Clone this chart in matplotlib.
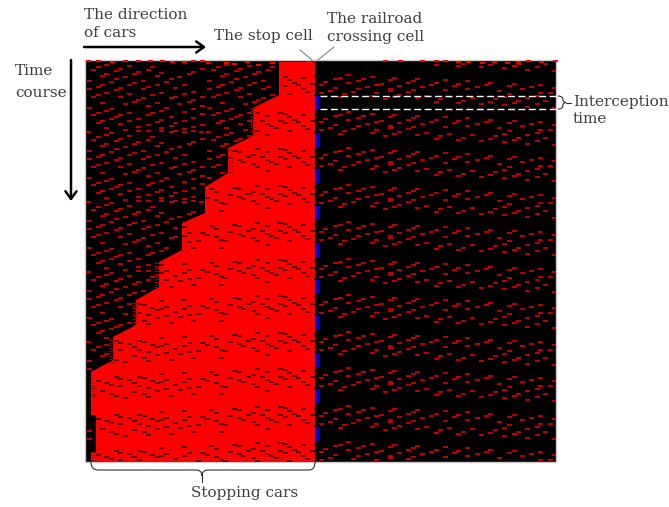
import numpy as np
import matplotlib
matplotlib.use('Agg')
import matplotlib.pyplot as plt
from matplotlib.path import Path
from matplotlib.patches import PathPatch, Rectangle

plt.rcParams['font.family'] = ['DejaVu Serif']

# everything is in pixels of the picture, y pointing down
# top of each blue bar (signal closed), first and last ones fall on the frame
bar_tops = [59, 96, 133, 169, 206, 243, 280, 316, 353, 389, 427, 463]
bar_height = 13.5

# edge of the queue, read along the steps
front_x = [279, 279, 253, 253, 228, 228, 205, 205, 182, 182, 159, 159, 136, 136, 113, 113, 91, 91, 96, 96, 91, 91]
front_y = [62, 95, 108, 136, 148, 173, 187, 213, 223, 250, 262, 287, 300, 325, 337, 360, 372, 415, 415, 452, 452, 462]

# free flow cars of one signal cycle, read at 3x from the crop at x=317, bar top at 178
free_x3 = [25, 55, 70, 95, 123, 138, 165, 192, 220, 233, 290, 301, 14, 41, 55, 95, 123, 152, 177, 220, 246, 274, 288,
           315, 343, 357, 384, 411, 425, 452, 480, 508, 521, 548, 577, 591, 616, 644, 671, 699, 712, 14, 70, 82, 110,
           165, 177, 205, 220, 233, 246, 274, 301, 329, 357, 371, 384, 397, 425, 438, 452, 466, 494, 521, 534, 562,
           562, 577, 591, 603, 631, 631, 660, 660, 671, 685, 712]
free_y3 = [137, 128, 123, 115, 133, 126, 120, 141, 130, 123, 133, 127, 145, 162, 155, 140, 158, 152, 145, 158, 148, 140,
           160, 152, 145, 138, 130, 148, 141, 133, 152, 145, 138, 162, 148, 141, 158, 152, 145, 170, 155, 170, 180, 173,
           166, 177, 170, 187, 162, 182, 175, 167, 184, 177, 195, 187, 159, 180, 198, 192, 158, 184, 202, 195, 187, 180,
           206, 172, 198, 192, 184, 210, 177, 202, 170, 194, 213]

# stopped cars of one cycle, read at 3x from the crop at x=85, bar top at 207
stop_x3 = [40, 65, 80, 52, 80, 93, 93, 107, 107, 120, 133, 147, 147, 162, 162, 177, 177, 190, 190, 203, 217, 217, 230,
           230, 245, 245, 258, 272, 285, 298, 298, 312, 312, 326, 340, 353, 366, 380, 394, 394, 408, 408, 422, 436,
           448, 462, 462, 476, 490, 504, 504, 518, 518, 532, 546, 546, 546, 560, 573, 585, 585, 600, 600, 612, 612,
           628, 640, 654, 654, 668, 682, 695, 695]
stop_y3 = [182, 188, 195, 212, 222, 170, 228, 177, 198, 235, 180, 190, 217, 172, 198, 175, 222, 231, 203, 183, 190, 212,
           163, 187, 180, 208, 228, 195, 210, 158, 185, 178, 205, 222, 200, 178, 182, 156, 166, 190, 197, 222, 200, 173,
           152, 157, 180, 187, 172, 165, 192, 148, 200, 172, 157, 180, 212, 186, 193, 146, 172, 150, 178, 160, 200, 168,
           175, 152, 186, 194, 170, 150, 205]

# incoming cars upstream of the queue, no signal gaps here
# read at 3x from the 120x70 crop at (85, 60), the crop is reused over the whole left part
up_x3 = [10, 40, 65, 78, 120, 133, 160, 190, 203, 230, 258, 272, 298, 325, 350,
         25, 52, 65, 93, 107, 120, 147, 160, 175, 190, 217, 230, 245, 258, 284, 298, 312, 326, 352,
         12, 40, 52, 78, 93, 107, 133, 147, 175, 190, 203, 217, 230, 272, 298, 326, 352,
         12, 40, 65, 93, 107, 133, 160, 175, 190, 203, 230, 258, 284, 312, 326, 352,
         25, 52, 78, 120, 147, 217, 245, 270, 298, 326, 352,
         12, 25, 40, 65, 93, 107, 133, 160, 190, 217, 230, 258, 270, 298, 326, 352,
         40, 52, 78, 107, 133, 160, 190, 230, 258, 298, 326, 65]
up_y3 = [5, 22, 14, 8, 1, 18, 3, 4, 22, 3, 7, 2, 6, 4, 5,
         29, 47, 41, 33, 27, 50, 43, 36, 62, 30, 47, 40, 65, 58, 50, 76, 43, 37, 28,
         62, 80, 74, 65, 58, 84, 76, 69, 88, 80, 105, 74, 98, 84, 102, 95, 112,
         87, 104, 98, 90, 110, 102, 120, 114, 138, 160, 152, 115, 133, 125, 120, 138,
         112, 128, 148, 133, 125, 130, 145, 110, 155, 148, 163,
         143, 165, 160, 152, 172, 165, 158, 176, 165, 185, 180, 172, 190, 182, 175, 194,
         188, 183, 178, 193, 184, 202, 195, 205, 198, 207, 200, 205]
up_x0 = [85, 205]
up_y0 = [60, 130, 200, 270, 340, 410]

# cars right at the top of the frame
top_x = [88, 98, 112, 125, 138, 150, 162, 172, 184, 193, 202, 208, 226, 234, 247, 258, 272, 283, 297, 308,
         385, 400, 422, 436, 445, 458, 468, 482, 494, 507, 518, 528, 541, 555]
top_y = [61, 61, 62, 61, 61, 61, 61, 62, 62, 61, 61, 63, 63, 64, 62, 65, 63, 64, 63, 62,
         61, 61, 61, 61, 61, 62, 62, 63, 62, 63, 62, 61, 62, 61]

# stacks of stopped cars just behind the queue edge: x, first y, last y
stack_x = [250, 228, 154, 132, 109, 91, 91]
stack_y0 = [108, 150, 263, 303, 340, 383, 452]
stack_y1 = [137, 173, 288, 325, 363, 398, 462]

fig = plt.figure(figsize=(6.69, 5.07), dpi=100)
ax = fig.add_axes([0, 0, 1, 1])
ax.set_xlim(0, 669)
ax.set_ylim(507, 0)
ax.axis('off')

left, right, top, bottom = 85, 556, 60, 462
ax.add_patch(Rectangle((left, top), right - left, bottom - top, fc='black', ec='#c8c8c8', lw=1, zorder=1))

# queue
qx = front_x + [315, 315]
qy = front_y + [462, 62]
ax.fill(qx, qy, color='#ff0000', lw=0, zorder=2)


def front_at(y):
    return np.interp(y, front_y, front_x)


free_dx = np.array(free_x3) / 3
free_dy = (np.array(free_y3) - 178) / 3
stop_dx = np.array(stop_x3) / 3
stop_dy = (np.array(stop_y3) - 207) / 3
up_dx = np.array(up_x3) / 3
up_dy = np.array(up_y3) / 3

red_x, red_y, dark_x, dark_y = [], [], [], []
for t in bar_tops:
    # right of the crossing
    red_x += list(317 + free_dx)
    red_y += list(t + free_dy)
    # inside the queue
    xs = 85 + stop_dx
    ys = t + stop_dy
    keep = (xs > front_at(ys) + 1)
    dark_x += list(xs[keep])
    dark_y += list(ys[keep])

# left of the crossing, only ahead of the queue
for x0 in up_x0:
    for y0 in up_y0:
        xs = x0 + up_dx
        ys = y0 + up_dy
        keep = (xs + 3 < front_at(ys)) & (xs > 86)
        red_x += list(xs[keep])
        red_y += list(ys[keep])

red_x = np.array(red_x)
red_y = np.array(red_y)
dark_x = np.array(dark_x)
dark_y = np.array(dark_y)
ok = (red_y > top + 3) & (red_y < bottom - 1)
ax.hlines(red_y[ok], red_x[ok] - 2.5, np.minimum(red_x[ok] + 2.5, right), color='#e00000', lw=1.2, zorder=3)
ok = (dark_y > top + 3) & (dark_y < bottom - 1)
ax.hlines(dark_y[ok], dark_x[ok] - 2.5, np.minimum(dark_x[ok] + 2.5, 315), color='#300000', lw=1.1, zorder=3)
ax.hlines(top_y, np.array(top_x) - 2.5, np.array(top_x) + 2.5, color='#ff0000', lw=1.4, zorder=3)

# stacks at the queue edge
for x, y0, y1 in zip(stack_x, stack_y0, stack_y1):
    ys = np.arange(y0, y1, 2.7)
    ax.hlines(ys, x, x + 5, color='#a00000', lw=0.7, zorder=3)

# blue bars
for t in bar_tops[1:-1]:
    ax.add_patch(Rectangle((315, t), 5, bar_height, fc='#0000c8', ec='none', zorder=4))

# interception time
for y in (96, 109):
    ax.plot([320, right], [y, y], color='white', lw=1.0, ls=(0, (5, 2.5)), zorder=5)

# arrows
ax.annotate('', xy=(206, 47), xytext=(84, 47),
            arrowprops=dict(arrowstyle='->,head_length=0.55,head_width=0.4', lw=1.8, color='black', shrinkA=0, shrinkB=0))
ax.annotate('', xy=(71, 201), xytext=(71, 60),
            arrowprops=dict(arrowstyle='->,head_length=0.55,head_width=0.4', lw=1.8, color='black', shrinkA=0, shrinkB=0))

# leaders of the two cells
ax.plot([300, 312], [50, 60], color='#707070', lw=0.7)
ax.plot([334, 318], [47, 60], color='#707070', lw=0.7)


def brace(points, codes=None):
    ax.add_patch(PathPatch(Path(points, codes), fc='none', ec='#303030', lw=0.8, clip_on=False))


C = [Path.MOVETO, Path.CURVE3, Path.CURVE3, Path.LINETO, Path.CURVE3, Path.CURVE3, Path.CURVE3, Path.CURVE3,
     Path.LINETO, Path.CURVE3, Path.CURVE3]
# brace under the queue
brace([(91, 462), (91, 470), (98, 470), (196, 470), (202, 470), (202, 476), (202, 470), (208, 470),
      (309, 470), (315, 470), (315, 462)], C)
ax.plot([202, 202], [474, 482], color='#303030', lw=0.8)
# small brace for interception time
brace([(558, 96), (563, 96), (563, 100), (563, 100), (563, 102.5), (566, 102.5), (563, 102.5), (563, 105),
      (563, 105), (563, 109), (558, 109)], C)
ax.plot([566, 571], [102.5, 102.5], color='#303030', lw=0.8)

txt = dict(color='#404040', fontsize=11, va='center', linespacing=1.0)
ax.text(84, 15, 'The direction', **txt)
ax.text(84, 33, 'of cars', **txt)
ax.text(214, 36, 'The stop cell', **txt)
ax.text(327, 19, 'The railroad', **txt)
ax.text(327, 37, 'crossing cell', **txt)
ax.text(15, 71, 'Time', **txt)
ax.text(15, 93, 'course', **txt)
ax.text(573, 102, 'Interception', **txt)
ax.text(573, 119, 'time', **txt)
ax.text(191, 493, 'Stopping cars', **txt)

fig.savefig('out.png', dpi=100)
